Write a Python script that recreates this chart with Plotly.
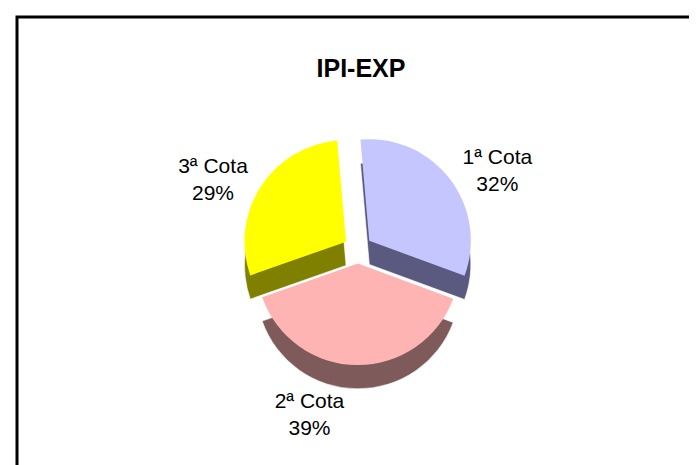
import plotly.graph_objects as go

# Data
categories = ["1ª Cota", "2ª Cota", "3ª Cota"]
values = [32, 39, 29]
title_text = "IPI-EXP"

top_colors = ["#C6C6FF", "#FFB4B4", "#FFFF00"]
side_colors = ["#5A5A80", "#7E5A5A", "#808000"]

W, H = 697, 465
FONT = "Liberation Sans, Arial, sans-serif"

cx, cy = 350, 244      # pie centre in px
box = 234              # pie box size in px
depth = 24             # 3-D depth in px
pull = 0.14
rot = -5

LABEL = "%{label}<br>%{percent:.0%}"
# the bottom slice carries its label on the depth layer so it sits below the rim
top_tmpl = [LABEL if c != "2ª Cota" else "" for c in categories]
side_tmpl = [LABEL if c == "2ª Cota" else "" for c in categories]


def dom(cx, cy, size):
    return dict(x=[(cx - size / 2) / W, (cx + size / 2) / W],
                y=[1 - (cy + size / 2) / H, 1 - (cy - size / 2) / H])


fig = go.Figure()

# side (depth) layer
fig.add_trace(go.Pie(
    labels=categories, values=values, sort=False, direction="clockwise",
    rotation=rot, pull=[pull] * 3, domain=dom(cx, cy + depth, box),
    marker=dict(colors=side_colors, line=dict(color="white", width=0.6)),
    texttemplate=side_tmpl, textposition="outside",
    outsidetextfont=dict(family=FONT, size=21, color="black"),
    hoverinfo="skip", showlegend=False,
))

# top face
fig.add_trace(go.Pie(
    labels=categories, values=values, sort=False, direction="clockwise",
    rotation=rot, pull=[pull] * 3, domain=dom(cx, cy, box),
    marker=dict(colors=top_colors, line=dict(width=0)),
    texttemplate=top_tmpl, textposition="outside",
    outsidetextfont=dict(family=FONT, size=21, color="black"),
    showlegend=False,
))

fig.update_layout(
    width=W, height=H,
    margin=dict(l=0, r=0, t=0, b=0),
    paper_bgcolor="white", plot_bgcolor="white",
    showlegend=False,
    title=dict(text="<b>" + title_text + "</b>", x=353 / W, y=1 - 60 / H,
               xanchor="center", yanchor="middle",
               font=dict(family=FONT, size=25, color="black")),
    shapes=[dict(type="rect", xref="paper", yref="paper",
                 x0=9 / W, x1=1.1, y0=-0.1, y1=1 - 9 / H,
                 line=dict(color="black", width=3), fillcolor="rgba(0,0,0,0)")],
)

fig.write_html("out.html")
